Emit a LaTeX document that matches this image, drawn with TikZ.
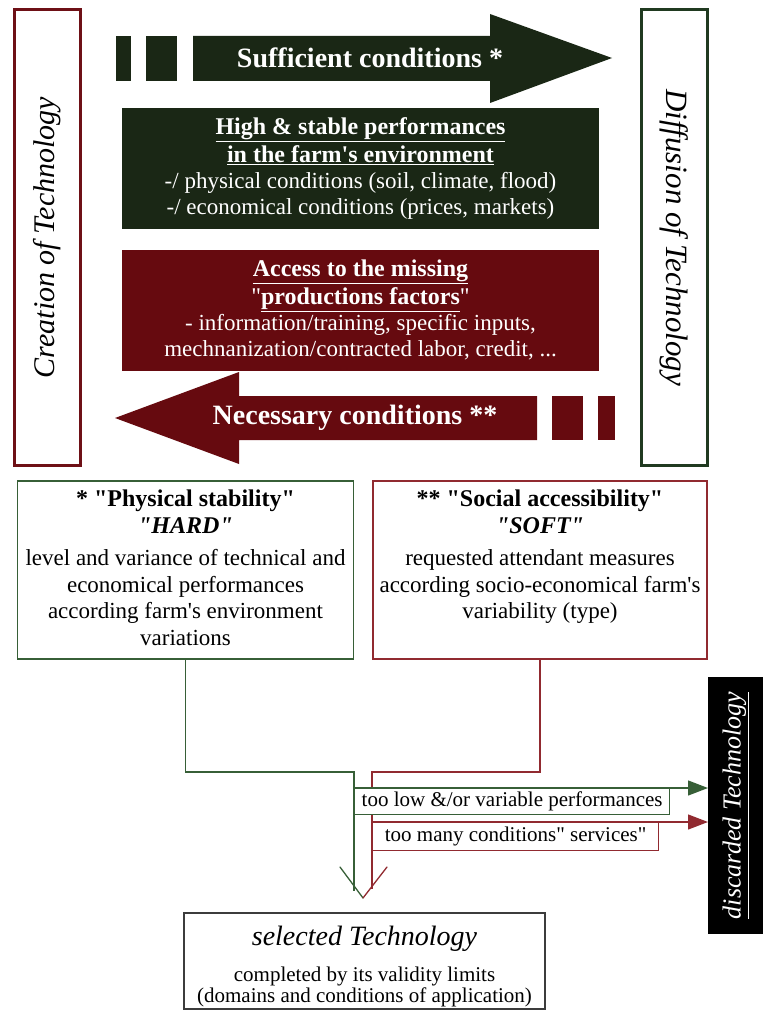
\documentclass[tikz,border=0pt]{standalone}
\usepackage{fontspec}
\usepackage{graphicx}
\setmainfont{Liberation Serif}[Ligatures=TeXOff]
\usetikzlibrary{arrows.meta}
\definecolor{dkgreen}{RGB}{26,39,21}
\definecolor{dkred}{RGB}{102,10,15}
\definecolor{bordred}{RGB}{110,16,22}
\definecolor{bordgreen}{RGB}{32,58,32}
\definecolor{lgreen}{RGB}{55,95,55}
\definecolor{lred}{RGB}{145,42,48}
\definecolor{selgray}{RGB}{60,60,60}
\newcommand\fsz[2]{\fontsize{#1}{#2}\selectfont}
\tikzset{
  arrowtext/.style={text=white, font=\fsz{28}{30}\bfseries, inner sep=0pt},
  fillbox/.style={minimum width=477pt, minimum height=121pt, inner sep=0pt, outer sep=0pt, align=center, text=white, font=\fsz{23}{26}},
  sidebox/.style={line width=3pt, fill=white, minimum width=66pt, minimum height=456pt, inner sep=0pt, outer sep=0pt},
  condbox/.style={line width=1.3pt, fill=white, minimum height=178pt, inner sep=0pt, outer sep=0pt},
  condtext/.style={align=center, font=\fsz{23}{26.5}, inner sep=0pt, anchor=north},
  seltext/.style={inner sep=0pt, anchor=base, font=\fsz{21}{22}},
  gline/.style={draw=lgreen, line width=1.3pt},
  rline/.style={draw=lred, line width=1.3pt},
  labelbox/.style={line width=1.3pt, fill=white, anchor=north west, inner xsep=4pt, inner ysep=0pt, minimum height=26pt, font=\fsz{21}{22}, text=black}
}
\begin{document}
\begin{tikzpicture}[x=1pt,y=-1pt]
\useasboundingbox (0,0) rectangle (766,1011);

% side boxes
\node[sidebox, draw=bordred] (create) at (47.5,237.5)
  {\rotatebox{90}{\fsz{30}{30}\itshape Creation of Technology}};
\node[sidebox, draw=bordgreen] (diffuse) at (674,237.5)
  {\rotatebox{-90}{\fsz{31}{31}\itshape Diffusion of Technology}};

% sufficient conditions arrow
\fill[dkgreen] (116,36) rectangle (131,81);
\fill[dkgreen] (146,36) rectangle (177,81);
\fill[dkgreen] (193,36) -- (490,36) -- (490,14) -- (612,58) -- (490,103) -- (490,81) -- (193,81) -- cycle;
\node[arrowtext] (suff) at (370,58) {Sufficient conditions *};

% performance box
\node[fillbox, fill=dkgreen] (perf) at (360.5,168.5)
  {\underline{\fsz{24}{26}\bfseries High \& stable performances}\\[2pt]
   \underline{\fsz{24}{26}\bfseries in the farm's environment}\\
   -/ physical conditions (soil, climate, flood)\\
   -/ economical conditions (prices, markets)};

% access box
\node[fillbox, fill=dkred] (access) at (360.5,310)
  {\underline{\fsz{24}{26}\bfseries Access to the missing}\\[2pt]
   {\fsz{24}{26}"\underline{\bfseries productions factors}"}\\
   - information/training, specific inputs,\\
   mechnanization/contracted labor, credit, ...};

% necessary conditions arrow
\fill[dkred] (115,418) -- (239,372) -- (239,396) -- (537,396) -- (537,440) -- (239,440) -- (239,464) -- cycle;
\fill[dkred] (552,396) rectangle (583,440);
\fill[dkred] (598,396) rectangle (615,440);
\node[arrowtext] (nec) at (355,418) {Necessary conditions **};

% condition boxes
\node[condbox, draw=lgreen, minimum width=336pt] (phys) at (185.5,570) {};
\node[condtext, yshift=-9pt] (phystext) at (phys.north)
  {{\fsz{24}{26}\bfseries * "Physical stability"}\\
   {\fsz{24}{26}\bfseries\itshape "HARD"}\\[6pt]
   level and variance of technical and\\
   economical performances\\
   according farm's environment\\
   variations};
\node[condbox, draw=lred, minimum width=334pt] (soc) at (540,570) {};
\node[condtext, yshift=-9pt] (soctext) at (soc.north)
  {{\fsz{24}{26}\bfseries ** "Social accessibility"}\\
   {\fsz{24}{26}\bfseries\itshape "SOFT"}\\[6pt]
   requested attendant measures\\
   according socio-economical farm's\\
   variability (type)};

% discarded box
\node[fill=black, minimum width=55pt, minimum height=257pt, inner sep=0pt, outer sep=0pt] (disc) at (735.5,805.5)
  {\rotatebox{90}{\fsz{26}{26}\itshape\color{white}\underline{discarded Technology}}};

% selected box
\node[draw=selgray, line width=2pt, fill=white, minimum width=361pt, minimum height=96pt, inner sep=0pt] (sel) at (364.5,961) {};
\node[seltext, font=\fsz{28}{30}\itshape] (seltitle) at (364.5,945) {selected Technology};
\node[seltext] (selline1) at (364.5,981) {completed by its validity limits};
\node[seltext] (selline2) at (364.5,1002) {(domains and conditions of application)};

% connectors
\coordinate (gj) at (354,772);
\coordinate (rj) at (372,772);
\coordinate (gend) at (354,891);
\coordinate (rend) at (372,889);
\coordinate (vl) at (340,867);
\coordinate (vr) at (387,867);
\coordinate (vtip) at (363,898);
\coordinate (ga) at (354,788);
\coordinate (ra) at (372,822);

\draw[gline] (phys.south) |- (gj) -- (gend);
\draw[rline] (soc.south) |- (rj) -- (rend);
\draw[gline, line cap=round] (vl) -- (vtip);
\draw[rline, line cap=round] (vr) -- (vtip);

\draw[gline, -{Triangle[length=20pt,width=15pt]}] (ga) -- (ga -| disc.west);
\draw[rline, -{Triangle[length=20pt,width=15pt]}] (ra) -- (ra -| disc.west);

\node[labelbox, draw=lgreen, minimum width=315pt] (tlow) at (ga) {too low \&/or variable performances};
\node[labelbox, draw=lred, minimum width=286pt, minimum height=28pt] (tmany) at (ra) {too many conditions" services"};
\end{tikzpicture}
\end{document}
